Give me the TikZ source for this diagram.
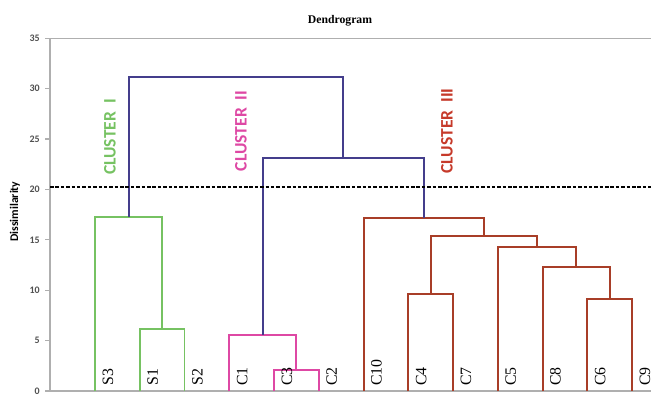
\documentclass[tikz,border=0pt]{standalone}
\usepackage{fontspec}
\setmainfont{Liberation Serif}
\newfontfamily\calfont{Carlito}
\definecolor{clgreen}{RGB}{118,194,98}
\definecolor{clpink}{RGB}{222,72,164}
\definecolor{clbrown}{RGB}{168,62,40}
\definecolor{clred}{RGB}{198,58,42}
\definecolor{clnavy}{RGB}{68,62,140}
\definecolor{axisgray}{RGB}{175,175,175}
\definecolor{tickgray}{RGB}{80,80,80}
\tikzset{
  axisline/.style={draw=axisgray, line width=0.9pt},
  cutline/.style={draw=black, line width=1.6pt, dash pattern=on 3pt off 1.6pt},
  leaflabel/.style={rotate=90, anchor=base west, inner sep=0pt, font=\fontsize{13.5}{14}\selectfont},
  clusterlabel/.style={rotate=90, inner sep=0pt, font=\calfont\bfseries\fontsize{15}{16}\selectfont},
  ticklabel/.style={anchor=east, inner sep=0pt, text=tickgray, font=\calfont\bfseries\fontsize{8.5}{9}\selectfont},
  greenlink/.style={draw=clgreen, line width=1.7pt},
  pinklink/.style={draw=clpink, line width=1.7pt},
  brownlink/.style={draw=clbrown, line width=1.7pt},
  navylink/.style={draw=clnavy, line width=1.7pt}
}
\begin{document}
\begin{tikzpicture}[x=0.03cm, y=0.3024cm]
  \useasboundingbox (0,-0.3) rectangle (651,38.79);
  \node[font=\bfseries\fontsize{10}{11}\selectfont] (title) at (340,36.7) {Dendrogram};

  % axes
  \draw[axisline] (50,0) -- (50,35) -- (651,35);
  \draw[axisline] (50,0) -- (651,0);
  \foreach \v in {0,5,...,35}
    \draw[axisline] (45,\v) -- (50,\v);
  \node[ticklabel] (t0) at (40,0) {0};
  \node[ticklabel] (t5) at (40,5) {5};
  \node[ticklabel] (t10) at (40,10) {10};
  \node[ticklabel] (t15) at (40,15) {15};
  \node[ticklabel] (t20) at (40,20) {20};
  \node[ticklabel] (t25) at (40,25) {25};
  \node[ticklabel] (t30) at (40,30) {30};
  \node[ticklabel] (t35) at (40,35) {35};
  \node[rotate=90, font=\calfont\bfseries\fontsize{10}{11}\selectfont] (ylab) at (15,17.8) {Dissimilarity};

  % leaves
  \coordinate (s3) at (95,0);
  \coordinate (s1) at (139.75,0);
  \coordinate (s2) at (184.5,0);
  \coordinate (c1) at (229.25,0);
  \coordinate (c3) at (274,0);
  \coordinate (c2) at (318.75,0);
  \coordinate (c10) at (363.5,0);
  \coordinate (c4) at (408.25,0);
  \coordinate (c7) at (453,0);
  \coordinate (c5) at (497.75,0);
  \coordinate (c8) at (542.5,0);
  \coordinate (c6) at (587.25,0);
  \coordinate (c9) at (632,0);

  % merges
  \coordinate (s12) at (162.1,6.2);
  \coordinate (sroot) at (128.6,17.3);
  \coordinate (c32) at (296.4,2.1);
  \coordinate (croot) at (262.8,5.6);
  \coordinate (c69) at (609.6,9.1);
  \coordinate (c869) at (576.1,12.3);
  \coordinate (c5869) at (536.9,14.3);
  \coordinate (c47) at (430.6,9.6);
  \coordinate (c4r) at (483.8,15.4);
  \coordinate (c10r) at (423.6,17.2);
  \coordinate (k23) at (343.2,23.1);
  \coordinate (k123) at (235.9,31.2);

  \draw[greenlink] (s1) |- (s12) -| (s2);
  \draw[greenlink] (s3) |- (sroot) -| (s12);
  \draw[pinklink] (c3) |- (c32) -| (c2);
  \draw[pinklink] (c1) |- (croot) -| (c32);
  \draw[brownlink] (c6) |- (c69) -| (c9);
  \draw[brownlink] (c8) |- (c869) -| (c69);
  \draw[brownlink] (c5) |- (c5869) -| (c869);
  \draw[brownlink] (c4) |- (c47) -| (c7);
  \draw[brownlink] (c47) |- (c4r) -| (c5869);
  \draw[brownlink] (c10) |- (c10r) -| (c4r);
  \draw[navylink] (croot) |- (k23) -| (c10r);
  \draw[navylink] (sroot) |- (k123) -| (k23);

  % cut
  \coordinate (cutl) at (50,20.2);
  \coordinate (cutr) at (651,20.2);
  \draw[cutline] (cutl) -- (cutr);

  \node[leaflabel] (ls3) at (113,0.5) {S3};
  \node[leaflabel] (ls1) at (157.75,0.5) {S1};
  \node[leaflabel] (ls2) at (202.5,0.5) {S2};
  \node[leaflabel] (lc1) at (247.25,0.5) {C1};
  \node[leaflabel] (lc3) at (292,0.5) {C3};
  \node[leaflabel] (lc2) at (336.75,0.5) {C2};
  \node[leaflabel] (lc10) at (381.5,0.5) {C10};
  \node[leaflabel] (lc4) at (426.25,0.5) {C4};
  \node[leaflabel] (lc7) at (471,0.5) {C7};
  \node[leaflabel] (lc5) at (515.75,0.5) {C5};
  \node[leaflabel] (lc8) at (560.5,0.5) {C8};
  \node[leaflabel] (lc6) at (605.25,0.5) {C6};
  \node[leaflabel] (lc9) at (650,0.5) {C9};

  \node[clusterlabel, text=clgreen] (kI) at (110,25.2) {CLUSTER\ \ I};
  \node[clusterlabel, text=clpink] (kII) at (241,25.8) {CLUSTER\ \ II};
  \node[clusterlabel, text=clred] (kIII) at (447,25.8) {CLUSTER\ \ III};
\end{tikzpicture}
\end{document}
